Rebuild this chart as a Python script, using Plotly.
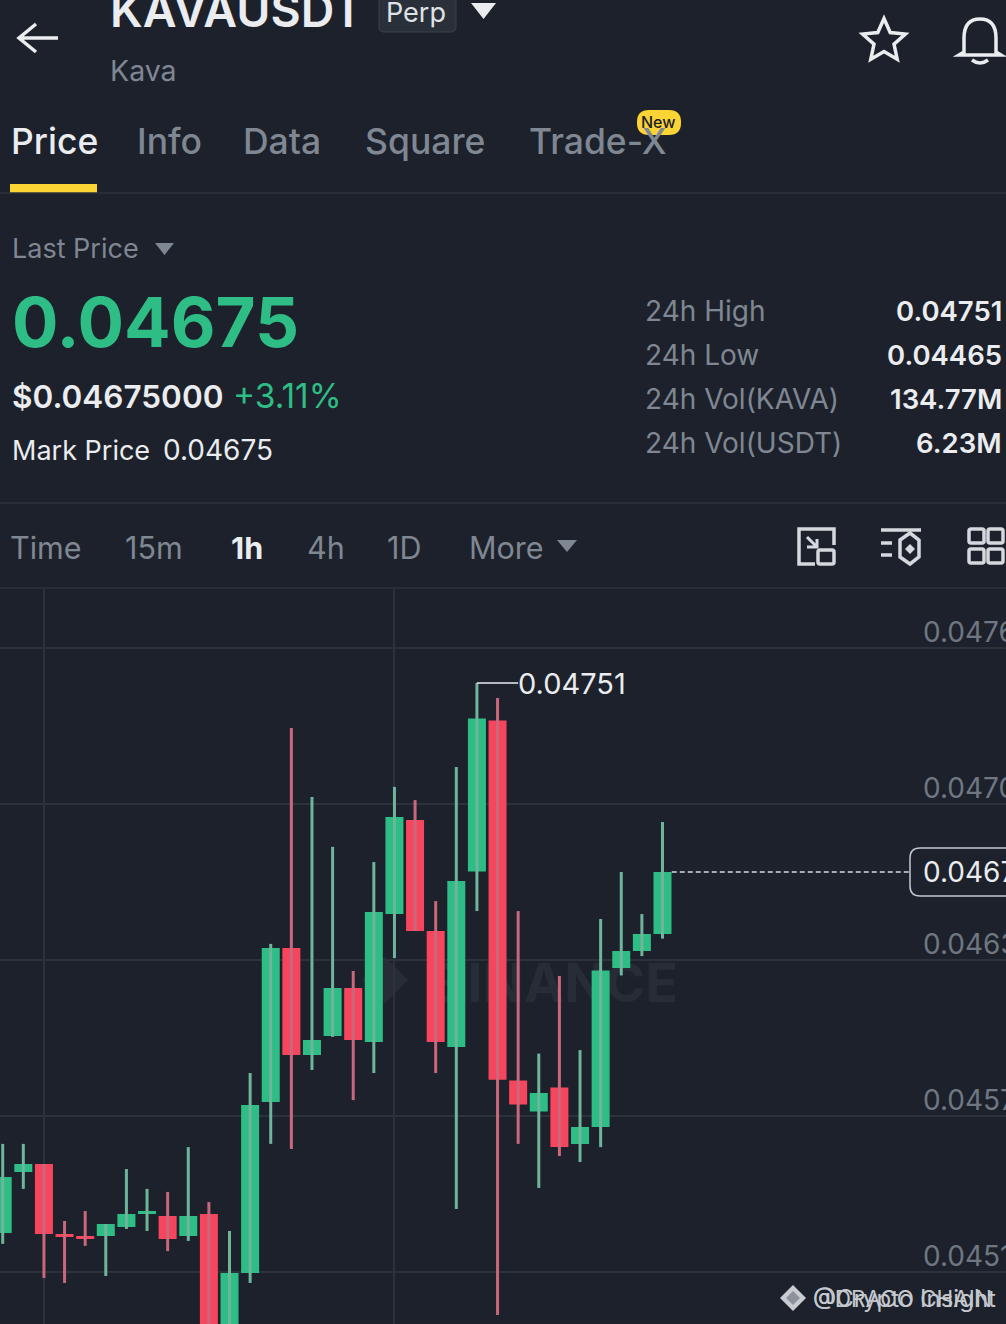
import math
import re
import plotly.graph_objects as go

W, H = 1006, 1324
BG = '#1c212b'
GRID = '#2c323c'
UP = '#2ebd85'
DOWN = '#f6465d'
GRAY = '#7f8792'
WHITE = '#eaecef'

# candles, oldest first
opens = [0.045299, 0.045544, 0.045576, 0.045295, 0.045287, 0.045287, 0.045323, 0.045375, 0.045367, 0.045287, 0.045375,
         0.044901, 0.045138, 0.045825, 0.046444, 0.046014, 0.046091, 0.046284, 0.046067, 0.046581, 0.046959, 0.046513,
         0.046046, 0.046752, 0.047359, 0.045912, 0.045787, 0.045884, 0.045657, 0.045725, 0.046364, 0.046432, 0.046501]
closes = [0.045524, 0.045576, 0.045295, 0.045283, 0.045275, 0.045335, 0.045375, 0.045387, 0.045275, 0.045367, 0.044901,
          0.045138, 0.045813, 0.046444, 0.046014, 0.046075, 0.046284, 0.046075, 0.046589, 0.046971, 0.046513, 0.046067,
          0.046714, 0.047367, 0.045915, 0.045815, 0.045862, 0.045644, 0.045725, 0.046354, 0.046432, 0.046501, 0.046750]
highs = [0.045657, 0.045657, 0.045576, 0.045347, 0.045387, 0.045335, 0.045556, 0.045476, 0.045464, 0.045644, 0.045423,
         0.045307, 0.045942, 0.046461, 0.047329, 0.047052, 0.046851, 0.046352, 0.046790, 0.047092, 0.047039, 0.046633,
         0.047172, 0.047510, 0.047449, 0.046593, 0.046020, 0.046332, 0.046034, 0.046561, 0.046750, 0.046581, 0.046951]
lows = [0.045255, 0.045476, 0.045118, 0.045098, 0.045247, 0.045126, 0.045315, 0.045307, 0.045226, 0.045267, 0.044849,
        0.044849, 0.045098, 0.045657, 0.045636, 0.045954, 0.046087, 0.045833, 0.045942, 0.046404, 0.046513, 0.045942,
        0.045395, 0.046593, 0.044969, 0.045657, 0.045480, 0.045608, 0.045584, 0.045644, 0.046334, 0.046412, 0.046482]
idx = list(range(len(opens)))

price_ticks = [0.047651, 0.047023, 0.046396, 0.045769, 0.045142]
price_labels = ['0.04765', '0.04702', '0.04639', '0.04576', '0.04514']
last_price = 0.04675
high_price = 0.04751
high_idx = 23

stats_labels = ['24h High', '24h Low', '24h Vol(KAVA)', '24h Vol(USDT)']
stats_values = ['0.04751', '0.04465', '134.77M', '6.23M']
tabs = ['Price', 'Info', 'Data', 'Square', 'Trade-X']
intervals = ['Time', '15m', '1h', '4h', '1D', 'More']


def fx(x):
    return x / W


def fy(y):
    return 1 - y / H


def pts(d):
    # pixel path -> paper path
    nums = iter(range(10000))
    return re.sub(r'-?\d+\.?\d*', lambda m: f'{(fx if next(nums) % 2 == 0 else fy)(float(m.group()))}', d)


shapes = []
annotations = []


def path(d, fill=None, line=None, width=0, layer='above'):
    shapes.append(dict(type='path', xref='paper', yref='paper', path=pts(d), fillcolor=fill or 'rgba(0,0,0,0)',
                       line=dict(color=line or 'rgba(0,0,0,0)', width=width), layer=layer))


def rrect(x0, y0, x1, y1, r):
    return (f'M{x0 + r} {y0} L{x1 - r} {y0} Q{x1} {y0} {x1} {y0 + r} L{x1} {y1 - r} Q{x1} {y1} {x1 - r} {y1} '
            f'L{x0 + r} {y1} Q{x0} {y1} {x0} {y1 - r} L{x0} {y0 + r} Q{x0} {y0} {x0 + r} {y0} Z')


def text(x, y, s, size, color=WHITE, anchor='left', weight=400):
    annotations.append(dict(xref='paper', yref='paper', x=fx(x), y=fy(y), text=s, showarrow=False, xanchor=anchor,
                            yanchor='middle', font=dict(family='Inter', size=size, color=color, weight=weight)))


# header
path('M58 38 L19 38 M36 24 L19 38 L36 52', line=WHITE, width=3.5)
text(108, 10, 'KAVAUSDT', 46.5, WHITE, weight=600)
path(rrect(379, -8, 456, 32, 5), fill='#2a303a', line='#3a414c', width=1)
text(384, 12, 'Perp', 27, '#dfe2e6')
path('M471 3 L496 3 L483.5 19 Z', fill=WHITE)
text(108, 71, 'Kava', 28.5, GRAY)

star = []
for k in range(10):
    r = 22.5 if k % 2 == 0 else 10.5
    a = -math.pi / 2 + k * math.pi / 5
    star.append(f'{884 + r * math.cos(a):.1f} {41 + r * math.sin(a):.1f}')
path('M' + ' L'.join(star) + ' Z', line=WHITE, width=3.5)
path('M964 52 L964 38 Q964 19 980 19 Q996 19 996 38 L996 52 L1001 55 L959 55 Z', line=WHITE, width=3.5)
path('M972 60 Q980 66 988 60', line=WHITE, width=3.5)

# tabs
for name, x in zip(tabs, [9, 135, 241, 363, 527]):
    text(x, 142, name, 35.5, WHITE if name == 'Price' else GRAY, weight=500)
path('M10 184 L97 184 L97 193 L10 193 Z', fill='#fcd535')
path(rrect(637, 110, 681, 135, 12), fill='#fcd535')
text(658, 122, 'New', 16, '#1c212b', 'center', 500)
path('M0 193 L1006 193', line=GRID, width=1.5)

# price block
text(10, 248, 'Last Price', 27, GRAY)
path('M155 243 L174 243 L164.5 255 Z', fill=GRAY)
text(10, 322, '0.04675', 69, UP, weight=700)
text(10, 396, '$0.04675000', 31.5, WHITE, weight=600)
text(231, 396, '+3.11%', 33.5, UP)
text(10, 450, 'Mark Price', 27, WHITE)
text(161, 450, '0.04675', 28, WHITE)
for i, (lab, val) in enumerate(zip(stats_labels, stats_values)):
    text(643, 311 + 44 * i, lab, 28, GRAY)
    text(1004, 311 + 44 * i, val, 27.5, WHITE, 'right', 600)
path('M0 503 L1006 503', line=GRID, width=1.5)

# interval row
for name, x in zip(intervals, [8, 123, 229, 305, 385, 467]):
    text(x, 547, name, 30.5, WHITE if name == '1h' else GRAY, weight=700 if name == '1h' else 400)
path('M557 540 L577 540 L567 552 Z', fill=GRAY)
path('M0 588 L1006 588', line=GRID, width=1.5)

ICON = '#d5d9de'
path('M815 564 L799 564 L799 529 L834 529 L834 545', line=ICON, width=3.5)
path(rrect(818, 550, 834, 564, 2), line=ICON, width=3.5)
path('M807 537 L817 547 M807 547 L817 547 L817 539', line=ICON, width=3)
path('M881 530 L921 530 M881 543 L892 543 M881 555 L892 555', line=ICON, width=3.5)
path('M910 533 L919 540 L919 557 L910 564 L900 557 L900 540 Z', line=ICON, width=3.5)
path('M910 544 L915 549 L910 554 L905 549 Z', fill=ICON)
for x0 in (969, 988):
    for y0 in (529, 549):
        path(rrect(x0, y0, x0 + 15, y0 + 14, 2), line=ICON, width=3.5)

# faint chart watermark, sits under the candles
WM = '#272d37'
path('M385 957 L408 980 L385 1003 L362 980 Z', fill=WM, layer='below')
shapes.append(dict(type='rect', xref='paper', yref='paper', x0=fx(420), x1=fx(690), y0=fy(1005), y1=fy(955),
                   line=dict(width=0), layer='below',
                   label=dict(text='BINANCE', textposition='middle center',
                              font=dict(family='Inter', size=54, color=WM, weight=700))))

# price axis labels, run off the right edge as in the screenshot
for p, lab in zip(price_ticks, price_labels):
    annotations.append(dict(xref='paper', yref='y', x=fx(921), y=p, yshift=16, text=lab, showarrow=False,
                            xanchor='left', yanchor='middle', font=dict(family='Inter', size=28, color='#6f7782')))

# last price line and tag
shapes.append(dict(type='line', xref='x', yref='y', x0=idx[-1] + 0.45, x1=44.0, y0=last_price, y1=last_price,
                   line=dict(color='#d5d9de', width=1.5, dash='5px,3px')))
path(rrect(910, 848, 1016, 896, 10), fill=BG, line='#c4c8ce', width=1.5)
annotations.append(dict(xref='paper', yref='y', x=fx(921), y=last_price, text='0.04675', showarrow=False,
                        xanchor='left', yanchor='middle', font=dict(family='Inter', size=28, color=WHITE)))

# high marker
shapes.append(dict(type='line', xref='x', yref='y', x0=high_idx, x1=high_idx + 2, y0=high_price, y1=high_price,
                   line=dict(color=WHITE, width=1.5)))
annotations.append(dict(xref='x', yref='y', x=high_idx + 1.9, y=high_price, text=f'{high_price:.5f}', showarrow=False,
                        xanchor='left', yanchor='middle', yshift=-1,
                        font=dict(family='Inter', size=29, color=WHITE)))

# reposted watermarks overlapping each other
path('M793 1285 L806 1298 L793 1311 L780 1298 Z', fill='#c9cdd2')
path('M793 1291 L800 1298 L793 1305 L786 1298 Z', fill='#8d939b')
text(811, 1298, '@DRACO CHAIN', 22.5, '#c4c8ce')
text(811, 1298, '@Crypto Insight', 24, '#c4c8ce')

wx_up, wy_up, wx_dn, wy_dn = [], [], [], []
for i in idx:
    if closes[i] >= opens[i]:
        wx_up += [i, i, None]
        wy_up += [lows[i], highs[i], None]
    else:
        wx_dn += [i, i, None]
        wy_dn += [lows[i], highs[i], None]

fig = go.Figure()
fig.add_trace(go.Scatter(x=wx_up, y=wy_up, mode='lines', line=dict(color='#6fb59b', width=3), hoverinfo='skip'))
fig.add_trace(go.Scatter(x=wx_dn, y=wy_dn, mode='lines', line=dict(color='#c9687d', width=3), hoverinfo='skip'))
fig.add_trace(go.Candlestick(x=idx, open=opens, high=highs, low=lows, close=closes,
                             increasing=dict(fillcolor=UP, line=dict(color=UP, width=0)),
                             decreasing=dict(fillcolor=DOWN, line=dict(color=DOWN, width=0))))

fig.update_layout(
    width=W, height=H, autosize=False, margin=dict(l=0, r=0, t=0, b=0), showlegend=False,
    paper_bgcolor=BG, plot_bgcolor=BG, boxmode='group', boxgap=0.127, boxgroupgap=0, shapes=shapes,
    annotations=annotations,
    xaxis=dict(range=[-0.131, 48.66], domain=[0, 1], rangeslider=dict(visible=False), tickmode='array',
               tickvals=[2, 19], showticklabels=False, showgrid=True, gridcolor=GRID, gridwidth=1.5, zeroline=False,
               showline=False, ticks=''),
    yaxis=dict(range=[0.04493296, 0.04788766], domain=[0, 735 / 1324], tickmode='array', tickvals=price_ticks,
               showticklabels=False, showgrid=True, gridcolor=GRID, gridwidth=1.5, zeroline=False, showline=False,
               ticks=''),
)

fig.write_html("out.html", config=dict(displayModeBar=False), post_script="document.body.style.margin='0';")
